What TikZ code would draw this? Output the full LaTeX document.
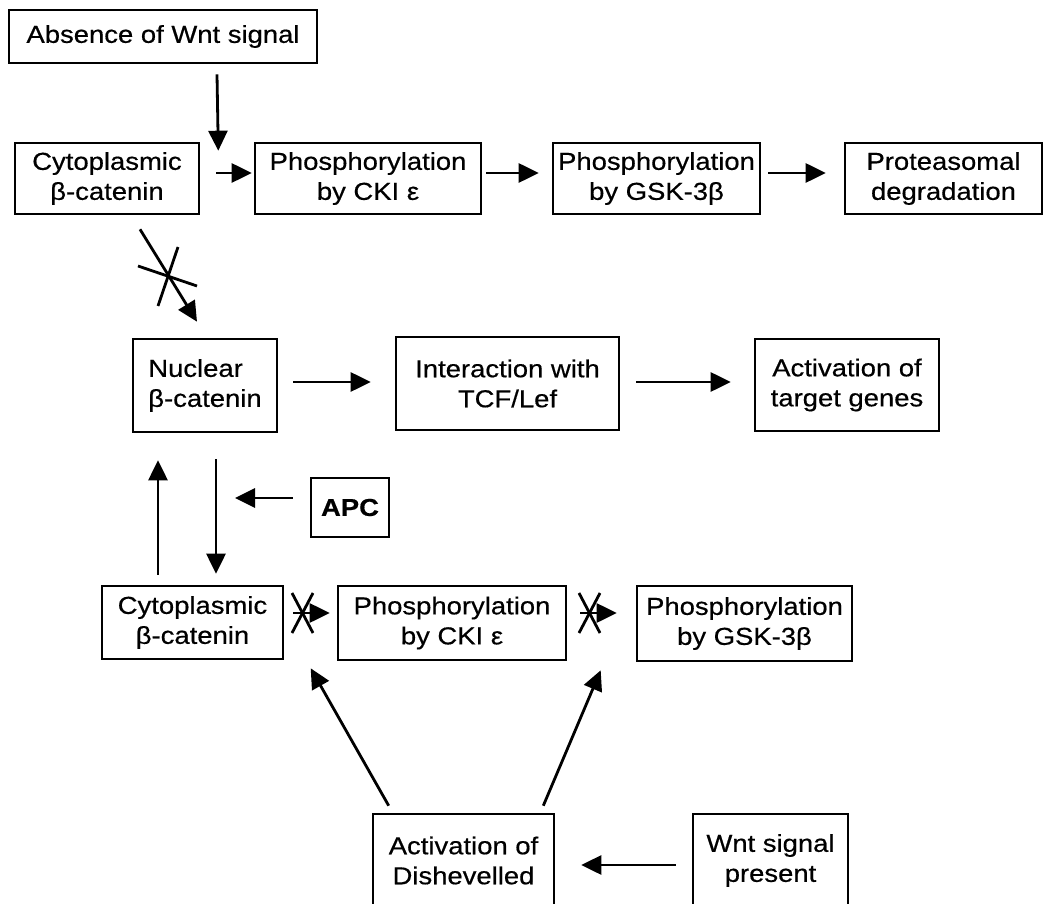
\documentclass[tikz,border=0pt]{standalone}
\usepackage{fontspec}
\setmainfont{Liberation Sans}[FakeStretch=1.12,FakeBold=0.5]
\usetikzlibrary{arrows.meta}
\begin{document}
\begin{tikzpicture}[x=1pt,y=-1pt,
  box/.style={draw, line width=2.6pt, inner sep=0pt, align=center, font=\fontsize{24.5}{30}\selectfont},
  arr/.style={-{Triangle[length=20pt,width=19pt]}, line width=2.8pt},
  xline/.style={line width=2.8pt}]
\useasboundingbox[fill=white] (0,0) rectangle (1045,904);
\clip (0,0) rectangle (1045,904);

% top row
\node[box, minimum width=308pt, minimum height=53pt] (absence) at (163,36.5) {Absence of Wnt signal};
\node[box, minimum width=184pt, minimum height=71pt] (cyto1) at (107,178.5) {Cytoplasmic\\β-catenin};
\node[box, minimum width=226pt, minimum height=71pt] (cki1) at (368,178.5) {Phosphorylation\\by CKI ε};
\node[box, minimum width=207pt, minimum height=71pt] (gsk1) at (656.5,178.5) {Phosphorylation\\by GSK-3β};
\node[box, minimum width=197pt, minimum height=71pt] (prot) at (943.5,178.5) {Proteasomal\\degradation};

% middle row
\node[box, align=left, minimum width=144pt, minimum height=93pt] (nuc) at (205,385.5) {Nuclear\\β-catenin};
\node[box, minimum width=223pt, minimum height=93pt] (inter) at (507.5,383.5) {Interaction with\\TCF/Lef};
\node[box, minimum width=184pt, minimum height=92pt] (act) at (847,385) {Activation of\\target genes};
\node[box, font=\fontsize{24.5}{30}\selectfont\bfseries, minimum width=78pt, minimum height=59pt] (apc) at (350,507.5) {APC};

% bottom row
\node[box, minimum width=181pt, minimum height=73pt] (cyto2) at (192.5,622.5) {Cytoplasmic\\β-catenin};
\node[box, minimum width=228pt, minimum height=74pt] (cki2) at (452,623) {Phosphorylation\\by CKI ε};
\node[box, minimum width=215pt, minimum height=75pt] (gsk2) at (744.5,623.5) {Phosphorylation\\by GSK-3β};
\node[box, minimum width=181pt, minimum height=93pt] (dish) at (463.5,860.5) {Activation of\\Dishevelled};
\node[box, minimum width=155pt, minimum height=93pt] (wnt) at (770.5,860.5) {Wnt signal\\present};

% top connectors
\draw[arr] ([xshift=54pt,yshift=-10pt]absence.south) -- ([xshift=18pt,yshift=-9pt]cyto1.north east);
\draw[arr] ([xshift=16pt,yshift=5.5pt]cyto1.east) -- ([xshift=-2pt,yshift=5.5pt]cki1.west);
\draw[arr] ([xshift=4pt,yshift=5.5pt]cki1.east) -- ([xshift=-13pt,yshift=5.5pt]gsk1.west);
\draw[arr] ([xshift=7pt,yshift=5.5pt]gsk1.east) -- ([xshift=-18pt,yshift=5.5pt]prot.west);

% blocked arrow cytoplasm -> nucleus
\draw[arr] ([xshift=33pt,yshift=-14pt]cyto1.south) -- ([xshift=-8pt,yshift=16pt]nuc.north);
\coordinate (c1) at (168,278);
\draw[xline] (c1) ++(-30,-12) -- ++(59,20);
\draw[xline] (c1) ++(10,-31) -- ++(-20,59);

% middle connectors
\draw[arr] ([xshift=15pt,yshift=3.5pt]nuc.east) -- ([xshift=-24pt,yshift=1.5pt]inter.west);
\draw[arr] ([xshift=16pt,yshift=1.5pt]inter.east) -- ([xshift=-23pt,yshift=3pt]act.west);

% vertical arrows between nucleus and cytoplasm
\draw[arr] ([xshift=-34.5pt,yshift=10pt]cyto2.north) -- ([xshift=-47pt,yshift=-27pt]nuc.south);
\draw[arr] ([xshift=11pt,yshift=-26pt]nuc.south) -- ([xshift=23.5pt,yshift=11pt]cyto2.north);
\coordinate (apctip) at (235,498);
\draw[arr] ([xshift=-17pt,yshift=9.5pt]apc.west) -- (apctip);

% bottom blocked arrows
\draw[arr] ([xshift=9pt,yshift=9.5pt]cyto2.east) -- ([xshift=-7pt,yshift=10pt]cki2.west);
\coordinate (c2) at (302.5,613);
\draw[xline] (c2) ++(-10.5,-20) -- ++(21,40);
\draw[xline] (c2) ++(10.5,-20) -- ++(-21,40);

\draw[arr] ([xshift=13pt,yshift=10pt]cki2.east) -- ([xshift=-19pt,yshift=10.5pt]gsk2.west);
\coordinate (c3) at (589.5,613);
\draw[xline] (c3) ++(-10.5,-20) -- ++(21,40);
\draw[xline] (c3) ++(10.5,-20) -- ++(-21,40);

% Dishevelled arrows
\draw[arr] ([xshift=17pt,yshift=7pt]dish.north west) -- ([xshift=-26pt,yshift=-7pt]cki2.south west);
\draw[arr] ([xshift=-12pt,yshift=7pt]dish.north east) -- ([xshift=-35pt,yshift=-8pt]gsk2.south west);
\draw[arr] ([xshift=-16pt,yshift=-4.5pt]wnt.west) -- ([xshift=26pt,yshift=-4.5pt]dish.east);
\end{tikzpicture}
\end{document}
